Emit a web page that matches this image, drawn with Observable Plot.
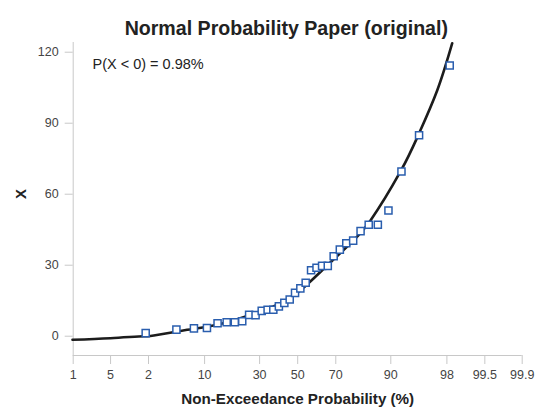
<!DOCTYPE html>
<html>
<head>
<meta charset="utf-8">
<script src="https://cdn.jsdelivr.net/npm/d3@7"></script>
<script src="https://cdn.jsdelivr.net/npm/@observablehq/plot@0.6"></script>
<style>
  html, body { margin: 0; padding: 0; background: #fff; }
  #chart { width: 540px; height: 414px; }
</style>
</head>
<body>
<div id="chart"></div>
<script>
// ---- Data ----
const titleText = "Normal Probability Paper (original)";
const xLabel = "Non-Exceedance Probability (%)";
const yLabel = "X";
const annotation = "P(X < 0) = 0.98%";

// Observed sample: non-exceedance probability (%) and value
const obsP = [1.82, 4.75, 7.66, 10.58, 13.50, 16.42, 19.34, 22.26, 25.18, 28.10,
              31.02, 33.94, 36.86, 39.78, 42.70, 45.62, 48.54, 51.46, 54.38, 57.30,
              60.22, 63.14, 66.06, 68.98, 71.90, 74.82, 77.74, 80.66, 83.58, 86.50,
              89.42, 92.34, 95.26, 98.18];
const obsX = [1.3, 2.8, 3.3, 3.5, 5.5, 5.9, 5.9, 6.3, 9.0, 8.9,
              10.7, 11.2, 11.2, 12.6, 14.1, 15.5, 18.3, 20.2, 22.6, 27.9,
              28.9, 29.7, 29.7, 33.8, 36.6, 39.3, 40.4, 44.4, 47.1, 47.1,
              53.1, 69.6, 84.9, 114.4];

// Fitted curve: standard normal score and value
const fitZ = [-3.10, -2.577, -2.118, -1.981, -1.521, -1.063, -0.604, -0.145, 0.222, 0.681, 1.002, 1.415, 1.659, 1.920, 2.127];
const fitX = [-1.5, -0.85, 0.0, 0.3, 2.7, 5.2, 9.5, 15.4, 24.5, 37.9, 48.9, 69.6, 84.9, 103.8, 123.8];

// Axis ticks
const xTickP = [0.1, 0.5, 2, 10, 30, 50, 70, 90, 98, 99.5, 99.9];
const xTickLabels = ["1", "5", "2", "10", "30", "50", "70", "90", "98", "99.5", "99.9"];
const yTicks = [0, 30, 60, 90, 120];

// ---- Inverse standard normal CDF (probability-paper transform) ----
function probit(p) {
  const a = [-3.969683028665376e+01, 2.209460984245205e+02, -2.759285104469687e+02, 1.383577518672690e+02, -3.066479806614716e+01, 2.506628277459239e+00];
  const b = [-5.447609879822406e+01, 1.615858368580409e+02, -1.556989798598866e+02, 6.680131188771972e+01, -1.328068155288572e+01];
  const c = [-7.784894002430293e-03, -3.223964580411365e-01, -2.400758277161838e+00, -2.549732539343734e+00, 4.374664141464968e+00, 2.938163982698783e+00];
  const d = [7.784695709041462e-03, 3.224671290700398e-01, 2.445134137142996e+00, 3.754408661907416e+00];
  const pl = 0.02425, ph = 1 - pl;
  let q, r;
  if (p < pl) {
    q = Math.sqrt(-2 * Math.log(p));
    return (((((c[0]*q+c[1])*q+c[2])*q+c[3])*q+c[4])*q+c[5]) / ((((d[0]*q+d[1])*q+d[2])*q+d[3])*q+1);
  }
  if (p <= ph) {
    q = p - 0.5; r = q * q;
    return (((((a[0]*r+a[1])*r+a[2])*r+a[3])*r+a[4])*r+a[5])*q / (((((b[0]*r+b[1])*r+b[2])*r+b[3])*r+b[4])*r+1);
  }
  q = Math.sqrt(-2 * Math.log(1 - p));
  return -(((((c[0]*q+c[1])*q+c[2])*q+c[3])*q+c[4])*q+c[5]) / ((((d[0]*q+d[1])*q+d[2])*q+d[3])*q+1);
}

const obs = obsP.map((p, i) => ({z: probit(p / 100), v: obsX[i]}));
const fit = fitZ.map((z, i) => ({z, v: fitX[i]}));
const xTicks = xTickP.map(p => probit(p / 100));
const xMin = probit(0.001), xMax = probit(0.999);
const yMin = -8.15, yMax = 124.1;

const chart = Plot.plot({
  width: 540,
  height: 414,
  marginLeft: 72.7,
  marginRight: 18.3,
  marginTop: 42,
  marginBottom: 59,
  style: {fontFamily: "'Liberation Sans', Arial, sans-serif", fontSize: "12px", color: "#444", background: "#fff"},
  x: {domain: [xMin, xMax]},
  y: {domain: [yMin, yMax]},
  marks: [
    Plot.ruleX([xMin], {stroke: "#c8c8c8"}),
    Plot.ruleY([yMin], {stroke: "#c8c8c8"}),
    Plot.axisX({ticks: xTicks, tickFormat: (d, i) => xTickLabels[i], tickSize: 9, tickPadding: 6, stroke: "#c8c8c8", label: null, fill: "#444", fontSize: 12.5}),
    Plot.axisY({ticks: yTicks, tickSize: 8, tickPadding: 6.5, stroke: "#c8c8c8", label: null, fill: "#444", fontSize: 12.5}),
    Plot.line(fit, {x: "z", y: "v", stroke: "#1c1c1c", strokeWidth: 2.6, curve: "natural"}),
    Plot.dot(obs, {x: "z", y: "v", symbol: "square", r: 4, stroke: "#2a5eae", strokeWidth: 1.5, fill: "white"}),
    Plot.text([annotation], {frameAnchor: "top-left", dx: 19.3, dy: 16, textAnchor: "start", fontSize: 14.5, fill: "#222"}),
    Plot.text([titleText], {frameAnchor: "top", dx: -11.4, dy: -21, fontSize: 19.6, fontWeight: "bold", fill: "#222"}),
    Plot.text([xLabel], {frameAnchor: "bottom", dy: 48, fontSize: 15.2, fontWeight: "bold", fill: "#222"}),
    Plot.text([yLabel], {frameAnchor: "left", dx: -51.7, rotate: -90, fontSize: 15, fontWeight: "bold", fill: "#222"})
  ]
});
document.getElementById("chart").appendChild(chart);
</script>
</body>
</html>
